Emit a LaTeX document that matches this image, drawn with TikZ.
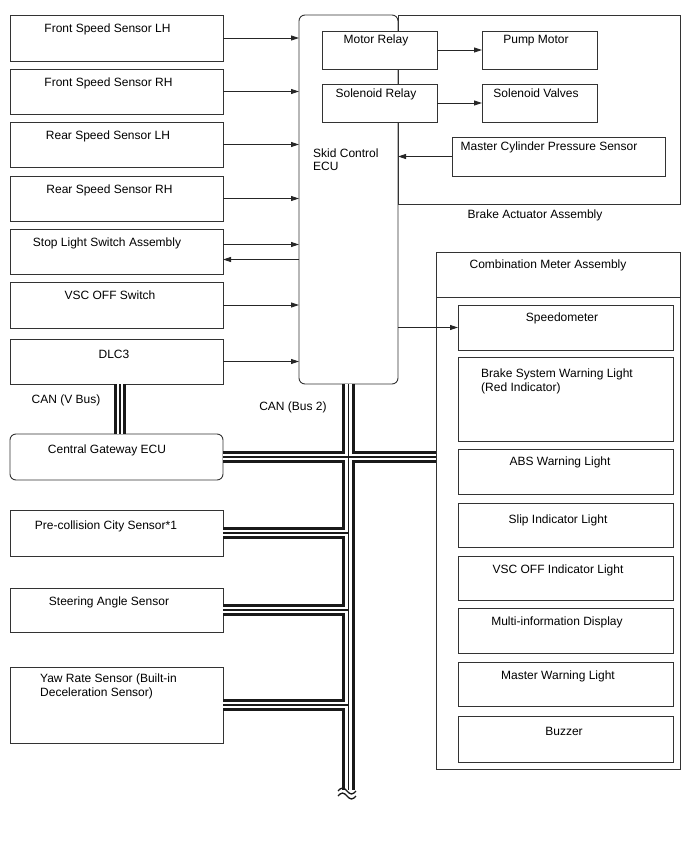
\documentclass[tikz,border=0pt]{standalone}
\usepackage{fontspec}
\setmainfont{Liberation Sans}
\usetikzlibrary{arrows.meta}
\tikzset{
  box/.style={draw=black!80, line width=0.9pt, fill=white, inner sep=0pt, outer sep=0pt},
  txt/.style={font=\fontsize{12}{14}\selectfont, inner sep=0pt, anchor=base},
  ltxt/.style={txt, anchor=base west},
  arr/.style={draw=black!85, line width=0.9pt, -{Triangle[length=8pt,width=5pt]}},
  busout/.style={line width=12.5pt, black!90},
  busmid/.style={line width=6.5pt, white},
  busin/.style={line width=1.4pt, black!90},
}
\newcommand{\bx}[6][]{\node[box,#1,minimum width={(#4-#2)*1pt},minimum height={(#5-#3)*1pt}] (#6) at ({(#2+#4)/2},{(#3+#5)/2}) {};}
\newcommand{\buslayer}[1]{%
  \draw[#1] (ecu.south) -- (busend);
  \draw[#1] (cgw.east) -- (cgw.east -| cma.west);
  \draw[#1] (pcs.east) -- (pcs.east -| ecu.south);
  \draw[#1] (sas.east) -- (sas.east -| ecu.south);
  \draw[#1] (yrs.east) -- (yrs.east -| ecu.south);
  \draw[#1] (vtop) -- (vbot);
}
\begin{document}
\begin{tikzpicture}[x=1pt,y=-1pt]
\useasboundingbox[fill=white] (0,0) rectangle (688,852);
% ---- boxes ----
\bx{10}{15}{223}{61}{fsl}
\bx{10}{69}{223}{114}{fsr}
\bx{10}{122}{223}{167}{rsl}
\bx{10}{176}{223}{221}{rsr}
\bx{10}{229}{223}{274}{sls}
\bx{10}{282}{223}{328}{vsw}
\bx{10}{339}{223}{384}{dlc}
\bx[rounded corners=6pt]{10}{434}{223}{480}{cgw}
\bx{10}{510}{223}{556}{pcs}
\bx{10}{588}{223}{632}{sas}
\bx{10}{667}{223}{743}{yrs}
\bx[rounded corners=6pt]{299}{15}{398}{384}{ecu}
\bx{398}{15}{680}{204}{baa}
\bx{322}{31}{437}{69}{mr}
\bx{482}{31}{597}{69}{pm}
\bx{322}{84}{437}{122}{sr}
\bx{482}{84}{597}{122}{sv}
\bx{452}{137}{665}{176}{mcp}
\bx{436}{252}{680}{769}{cma}
\bx{458}{305}{673}{350}{spd}
\bx{458}{357}{673}{441}{bsw}
\bx{458}{449}{673}{494}{abs}
\bx{458}{503}{673}{547}{sil}
\bx{458}{556}{673}{600}{voi}
\bx{458}{608}{673}{653}{mid}
\bx{458}{662}{673}{706}{mwl}
\bx{458}{716}{673}{762}{buz}
\draw[draw=black!80, line width=0.9pt] (cma.west |- 0,297) -- (cma.east |- 0,297);
% ---- CAN bus ----
\coordinate (busend) at (ecu.south |- 0,790);
\coordinate (vtop) at ([xshift=3.5pt]dlc.south);
\coordinate (vbot) at (vtop |- cgw.north);
\buslayer{busout}
\buslayer{busmid}
\buslayer{busin}
% break mark
\draw[line width=1.3pt, black!90] (338,791) sin (342.5,788) cos (347,791) sin (351.5,794) cos (356,791);
\draw[line width=1.3pt, black!90] (338,796) sin (342.5,793) cos (347,796) sin (351.5,799) cos (356,796);
% ---- texts ----
\node[txt] (tfsl) at (107.5,32) {Front Speed Sensor LH};
\node[txt] (tfsr) at (108.5,86) {Front Speed Sensor RH};
\node[txt] (trsl) at (108,139) {Rear Speed Sensor LH};
\node[txt] (trsr) at (109.5,193) {Rear Speed Sensor RH};
\node[txt] (tsls) at (107,246) {Stop Light Switch Assembly};
\node[txt] (tvsw) at (110,299) {VSC OFF Switch};
\node[txt] (tdlc) at (114,358) {DLC3};
\node[txt] (tvbus) at (66,403) {CAN (V Bus)};
\node[txt] (tbus2) at (293,410) {CAN (Bus 2)};
\node[txt] (tcgw) at (107,453) {Central Gateway ECU};
\node[txt] (tpcs) at (106,529) {Pre-collision City Sensor*1};
\node[txt] (tsas) at (109,605) {Steering Angle Sensor};
\node[ltxt] (tyrs1) at (40,682) {Yaw Rate Sensor (Built-in};
\node[ltxt] (tyrs2) at (40,696) {Deceleration Sensor)};
\node[ltxt] (tecu1) at (313,157) {Skid Control};
\node[ltxt] (tecu2) at (313,170) {ECU};
\node[txt] (tmr) at (376,43) {Motor Relay};
\node[txt] (tpm) at (536,43) {Pump Motor};
\node[txt] (tsr) at (376,97) {Solenoid Relay};
\node[txt] (tsv) at (536,97) {Solenoid Valves};
\node[txt] (tmcp) at (549,150) {Master Cylinder Pressure Sensor};
\node[txt] (tbaa) at (535,218) {Brake Actuator Assembly};
\node[txt] (tcma) at (548,268) {Combination Meter Assembly};
\node[txt] (tspd) at (562,321) {Speedometer};
\node[ltxt] (tbsw1) at (481,377) {Brake System Warning Light};
\node[ltxt] (tbsw2) at (481,391) {(Red Indicator)};
\node[txt] (tabs) at (560,465) {ABS Warning Light};
\node[txt] (tsil) at (558,523) {Slip Indicator Light};
\node[txt] (tvoi) at (558,573) {VSC OFF Indicator Light};
\node[txt] (tmid) at (557,625) {Multi-information Display};
\node[txt] (tmwl) at (558,679) {Master Warning Light};
\node[txt] (tbuz) at (564,735) {Buzzer};
% ---- arrows ----
\draw[arr] (fsl.east) -- (fsl.east -| ecu.west);
\draw[arr] (fsr.east) -- (fsr.east -| ecu.west);
\draw[arr] (rsl.east) -- (rsl.east -| ecu.west);
\draw[arr] (rsr.east) -- (rsr.east -| ecu.west);
\draw[arr] ([yshift=7pt]sls.east) -- ([yshift=7pt]sls.east -| ecu.west);
\draw[arr] ([yshift=-8pt]sls.east -| ecu.west) -- ([yshift=-8pt]sls.east);
\draw[arr] (vsw.east) -- (vsw.east -| ecu.west);
\draw[arr] (dlc.east) -- (dlc.east -| ecu.west);
\draw[arr] (mr.east) -- (pm.west);
\draw[arr] (sr.east) -- (sv.west);
\draw[arr] (mcp.west) -- (mcp.west -| ecu.east);
\draw[arr] (spd.west -| ecu.east) -- (spd.west);
\end{tikzpicture}
\end{document}
